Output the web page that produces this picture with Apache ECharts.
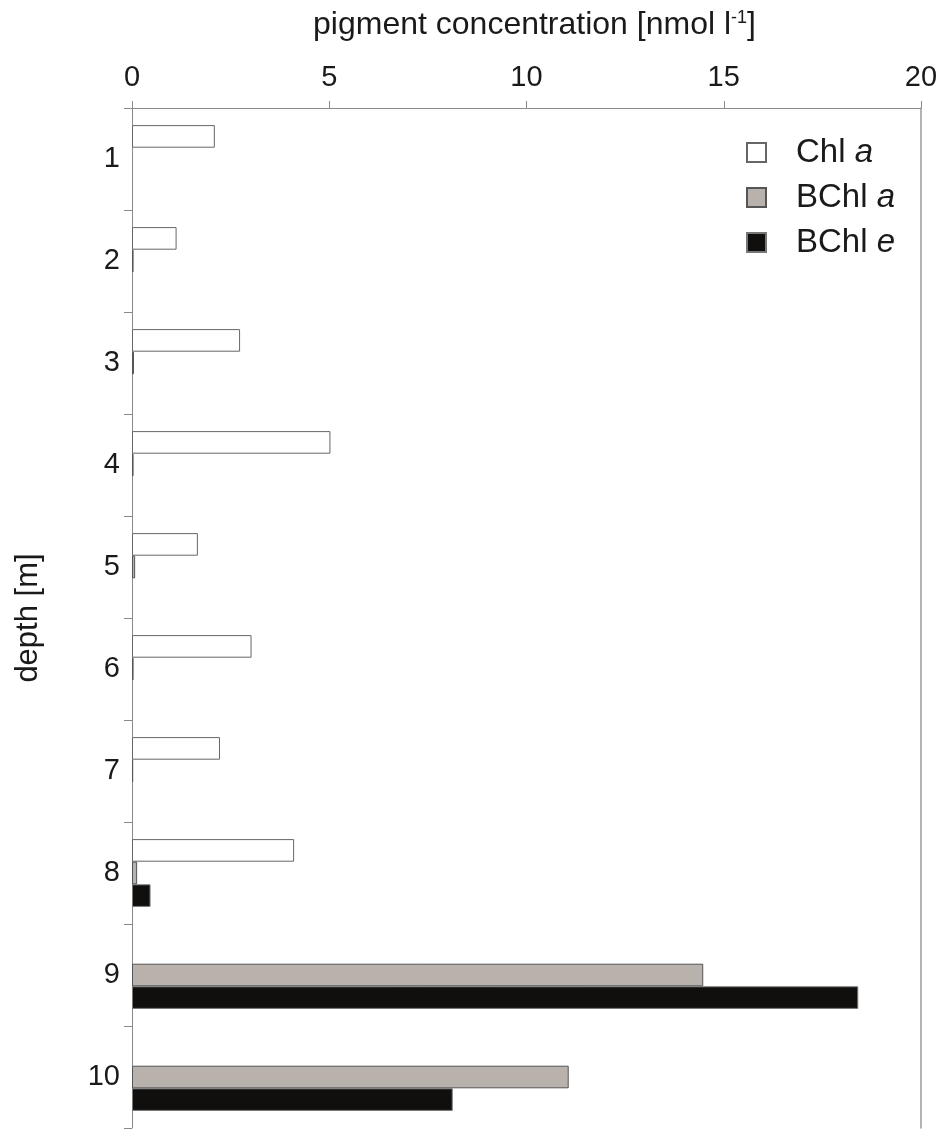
<!DOCTYPE html>
<html>
<head>
<meta charset="utf-8">
<script src="https://cdn.jsdelivr.net/npm/echarts@6/dist/echarts.min.js"></script>
<style>html,body{margin:0;padding:0;background:#fff}#c{width:946px;height:1129px}</style>
</head>
<body>
<div id="c"></div>
<script>
var depths = ['1','2','3','4','5','6','7','8','9','10'];
var chlA  = [2.10, 1.13, 2.74, 5.03, 1.67, 3.03, 2.23, 4.11, 0, 0];
var bchlA = [0, 0.04, 0.05, 0.04, 0.08, 0.04, 0.03, 0.13, 14.48, 11.07];
var bchlE = [0, 0, 0, 0, 0, 0, 0, 0.47, 18.41, 8.13];
var xTicks = [0, 5, 10, 15, 20];

var FONT = 'Liberation Sans, Arial, sans-serif';
var TXT = '#1a1a1a';
var AX = '#8a8a8a';
var chart = echarts.init(document.getElementById('c'), null, {renderer: 'canvas'});
function legendFmt(name) {
  var i = name.lastIndexOf(' ');
  return '{n|' + name.slice(0, i + 1) + '}{i|' + name.slice(i + 1) + '}';
}
// zero values have no visible bar in the figure
function noZero(arr) { return arr.map(function (v) { return v === 0 ? null : v; }); }
var barW = 22.6;
var LF = 33;
chart.setOption({
  animation: false,
  backgroundColor: '#fff',
  grid: {left: 132, right: 25, top: 108, bottom: 1},
  legend: {
    orient: 'vertical', left: 746, top: 136, padding: 0,
    itemWidth: 19, itemHeight: 19, itemGap: 12,
    icon: 'rect',
    formatter: legendFmt,
    textStyle: {
      fontFamily: FONT, fontSize: LF, color: TXT,
      rich: {
        n: {fontFamily: FONT, fontSize: LF, color: TXT, padding: [0, 0, 0, 25]},
        i: {fontFamily: FONT, fontSize: LF, color: TXT, fontStyle: 'italic'}
      }
    },
    data: ['Chl a', 'BChl a', 'BChl e']
  },
  xAxis: {
    type: 'value', position: 'top', min: xTicks[0], max: xTicks[xTicks.length - 1], interval: 5,
    name: 'pigment concentration [nmol l{s|-1}]',
    nameLocation: 'middle', nameGap: 67,
    nameTextStyle: {
      fontFamily: FONT, fontSize: 32, color: TXT, padding: [0, 0, 0, 16],
      rich: {s: {fontFamily: FONT, fontSize: 18, color: TXT, padding: [0, 0, 13, 0]}}
    },
    axisLine: {show: true, lineStyle: {color: AX, width: 1}},
    axisTick: {show: true, length: 7, inside: false, lineStyle: {color: AX}},
    axisLabel: {fontFamily: FONT, fontSize: 29, color: TXT, margin: 16},
    splitLine: {show: false}
  },
  yAxis: [{
    type: 'category', inverse: true, data: depths,
    name: 'depth [m]', nameLocation: 'middle', nameGap: 88, nameRotate: 90,
    nameTextStyle: {fontFamily: FONT, fontSize: 31, color: TXT},
    axisLine: {show: true, lineStyle: {color: AX, width: 1}},
    axisTick: {show: true, length: 8, lineStyle: {color: AX}},
    axisLabel: {fontFamily: FONT, fontSize: 29, color: TXT, margin: 12}
  }, {
    type: 'category', inverse: true, data: depths, position: 'right',
    axisLine: {show: true, lineStyle: {color: '#9a9a9a', width: 1.5}},
    axisTick: {show: false}, axisLabel: {show: false}
  }],
  series: [
    {name: 'Chl a', type: 'bar', data: noZero(chlA), barWidth: barW, barGap: '0%',
     itemStyle: {color: '#ffffff', borderColor: '#666', borderWidth: 1}},
    {name: 'BChl a', type: 'bar', data: noZero(bchlA), barWidth: barW, barGap: '0%',
     itemStyle: {color: '#b8b1ac', borderColor: '#555', borderWidth: 1}},
    {name: 'BChl e', type: 'bar', data: noZero(bchlE), barWidth: barW, barGap: '0%',
     itemStyle: {color: '#110f0d', borderColor: '#777', borderWidth: 1}}
  ]
});
</script>
</body>
</html>
